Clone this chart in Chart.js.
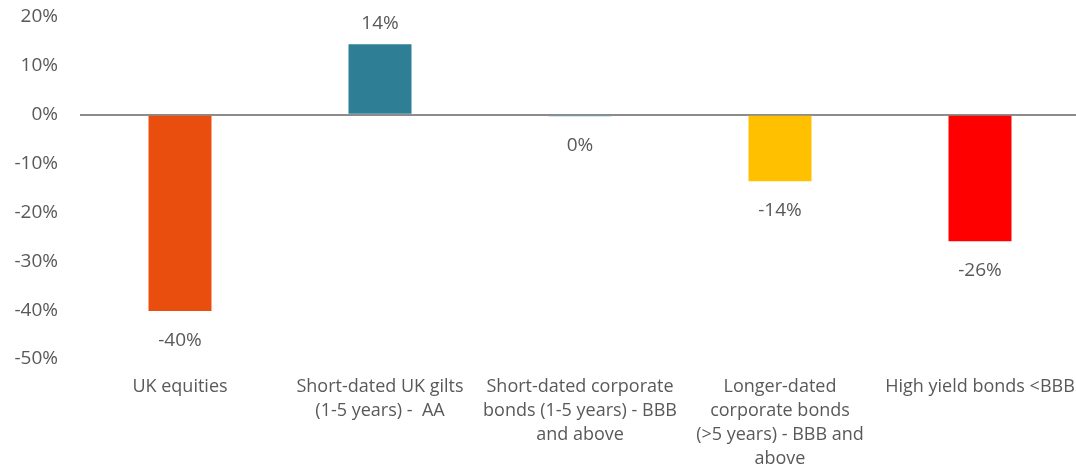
<!DOCTYPE html>
<html>
<head>
<meta charset="utf-8">
<script src="https://cdn.jsdelivr.net/npm/chart.js@4/dist/chart.umd.min.js"></script>
<style>
    html, body { margin: 0; padding: 0; background: #fff; overflow: hidden; }
    #wrap { width: 1076px; height: 474px; overflow: hidden; }
</style>
</head>
<body>
<div id="wrap"><canvas id="chart" width="1080" height="474"></canvas></div>
<script>
    'use strict';

    // categories (wrapped the same way as the original axis)
    var categories = [
        ['UK equities'],
        ['Short-dated UK gilts', '(1-5 years) -  AA'],
        ['Short-dated corporate', 'bonds (1-5 years) - BBB', 'and above'],
        ['Longer-dated', 'corporate bonds', '(>5 years) - BBB and', 'above'],
        ['High yield bonds <BBB']
    ];

    // returns in %
    var returns = [-40.2, 14.4, -0.3, -13.6, -25.9];

    var barColors = ['#E94E0F', '#2E7F96', '#4BA3C9', '#FFC000', '#FF0000'];

    var yMin = -50,
        yMax = 20,
        yStep = 10;

    var textColor = '#595959',
        fontFamily = 'Open Sans, Lato, sans-serif';

    var valueLabels = {
        id: 'valueLabels',
        afterDatasetsDraw: function (chart) {
            var ctx = chart.ctx,
                meta = chart.getDatasetMeta(0);

            ctx.save();
            ctx.fillStyle = textColor;
            ctx.font = '19px ' + fontFamily;
            ctx.textAlign = 'center';
            ctx.textBaseline = 'middle';

            meta.data.forEach(function (bar, i) {
                var v = chart.data.datasets[0].data[i],
                    y = v >= 0 ? bar.y - 21 : bar.y + 29,
                    txt = Math.round(v);

                if (txt === 0) { txt = 0; }
                ctx.fillText(txt + '%', bar.x, y);
            });
            ctx.restore();
        }
    };

    new Chart(document.getElementById('chart').getContext('2d'), {
        type: 'bar',
        data: {
            labels: categories,
            datasets: [{
                data: returns,
                backgroundColor: barColors,
                borderWidth: 0,
                barPercentage: 0.315,
                categoryPercentage: 1
            }]
        },
        options: {
            responsive: false,
            animation: false,
            layout: { padding: { top: 17, right: 0, bottom: 0, left: 0 } },
            plugins: {
                legend: { display: false },
                tooltip: { enabled: false }
            },
            scales: {
                x: {
                    grid: { display: false, drawTicks: false },
                    border: { display: false },
                    ticks: {
                        color: textColor,
                        font: { family: fontFamily, size: 18, lineHeight: 1.333 },
                        padding: 16,
                        maxRotation: 0,
                        autoSkip: false
                    },
                    afterFit: function (scale) {
                        scale.height = 115;
                        scale.paddingLeft = 0;
                        scale.paddingRight = 0;
                    }
                },
                y: {
                    min: yMin,
                    max: yMax,
                    ticks: {
                        stepSize: yStep,
                        color: textColor,
                        font: { family: fontFamily, size: 19 },
                        padding: 22,
                        callback: function (v) { return v + '%'; }
                    },
                    grid: {
                        drawTicks: false,
                        lineWidth: 2,
                        color: function (c) {
                            return c.tick && c.tick.value === 0 ? '#8C8C8C' : 'rgba(0,0,0,0)';
                        }
                    },
                    border: { display: false },
                    afterFit: function (scale) {
                        scale.width = 80;
                        scale.paddingTop = 0;
                        scale.paddingBottom = 0;
                    }
                }
            }
        },
        plugins: [valueLabels]
    });
</script>
</body>
</html>
